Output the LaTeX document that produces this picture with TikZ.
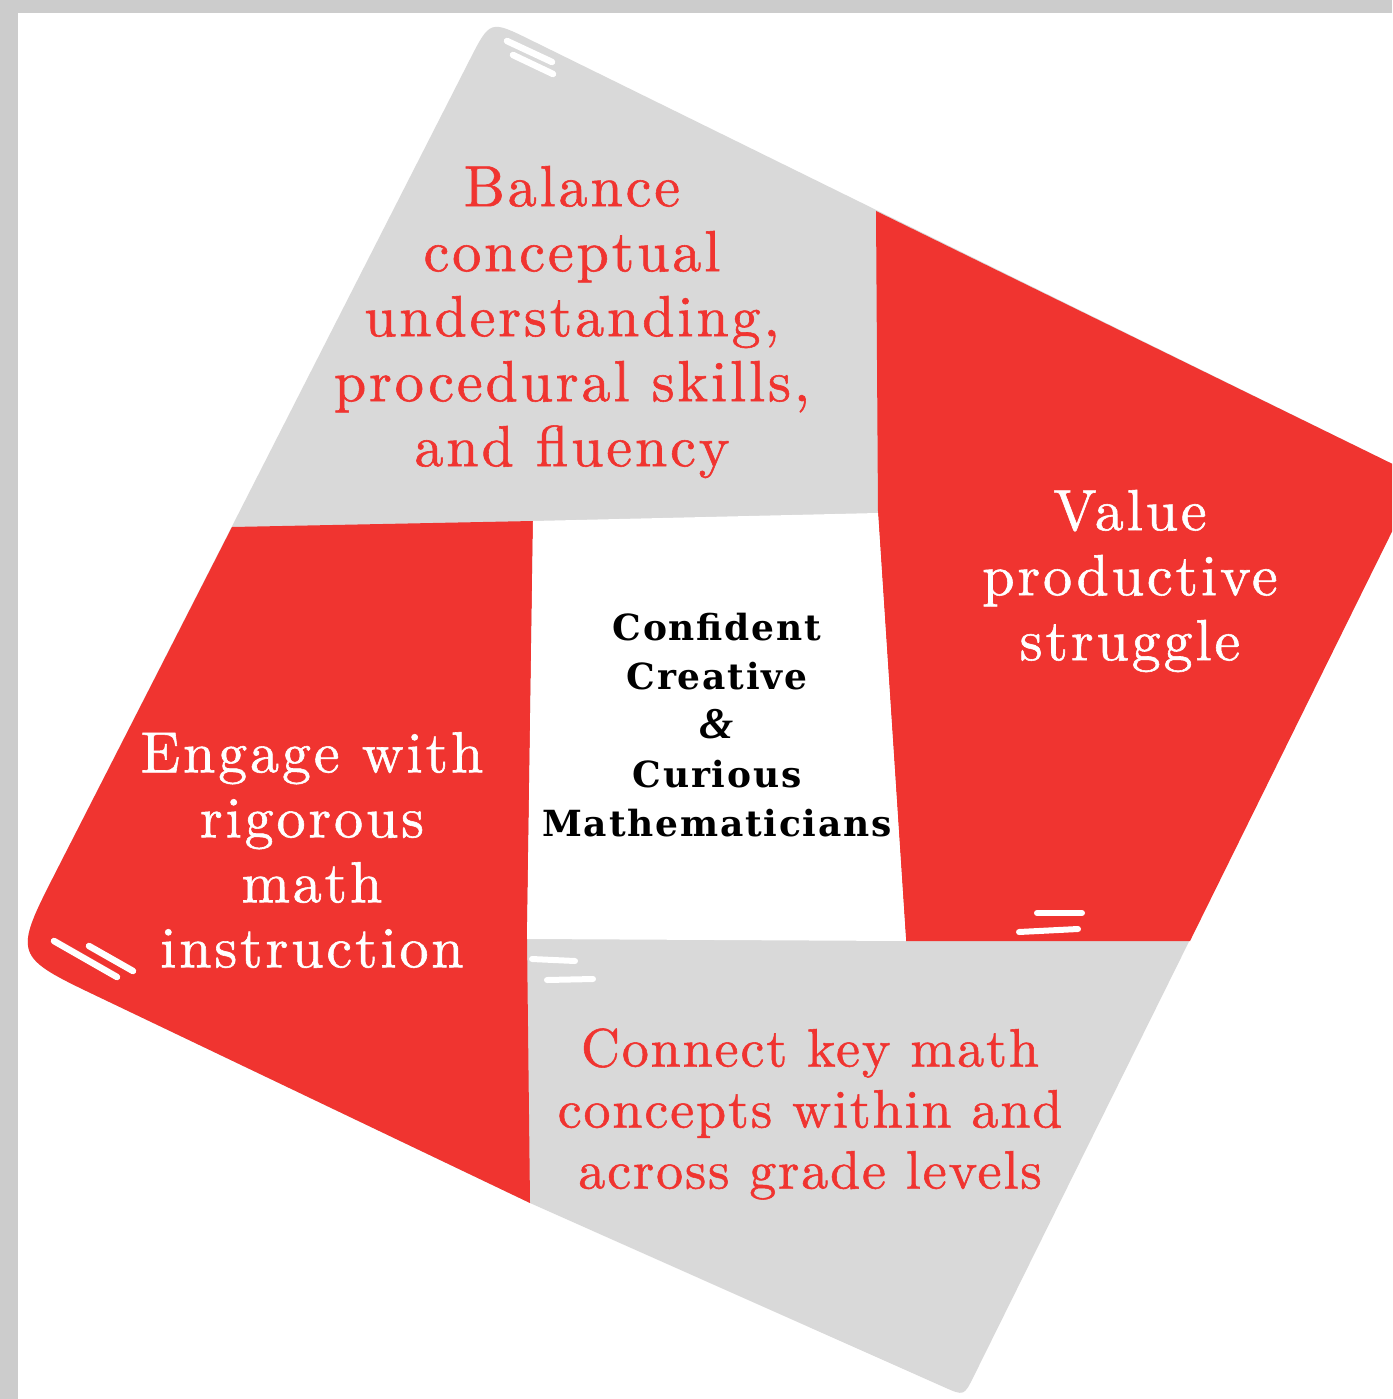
\documentclass[tikz,border=0pt]{standalone}
\usepackage{fontspec}
\usetikzlibrary{calc}

\newfontfamily\petalfont{lmroman10-regular}[Extension=.otf,LetterSpace=5,FakeBold=1]
\newfontfamily\lowpetalfont{lmroman10-regular}[Extension=.otf,LetterSpace=3.5,FakeBold=1]
\newfontfamily\slabfont{DejaVu Serif}[LetterSpace=5]
\newfontfamily\ampfont{Liberation Serif}

\definecolor{petal red}{RGB}{240,52,48}
\definecolor{petal grey}{RGB}{217,217,217}
\definecolor{frame grey}{RGB}{204,204,204}

\begin{document}
\begin{tikzpicture}[x=1pt,y=-1pt,
  quad text/.style={align=center,font=\petalfont\fontsize{58}{65}\selectfont},
  on grey/.style={quad text,text=petal red},
  on red/.style={quad text,text=white},
  core text/.style={align=center,font=\slabfont\bfseries\fontsize{36}{49}\selectfont},
  scratch/.style={draw=white,line width=6.5pt,line cap=round}]

  % page and frame
  \fill[frame grey] (0,0) rectangle (1392,1399);
  \fill[white] (18,13) rectangle (1392,1399);
  \clip (0,0) rectangle (1392,1399);

  % outer corners of the tilted square
  \coordinate (T) at (490,20);
  \coordinate (R) at (1419,477);
  \coordinate (B) at (964,1396);
  \coordinate (L) at (13,956);
  % where the dividers meet the rim
  \coordinate (tl) at (232,527);
  \coordinate (tr) at (876,211);
  \coordinate (rb) at (1190,941);
  \coordinate (bl) at (530,1203);
  % the white square in the middle
  \coordinate (c1) at (533,521);
  \coordinate (c2) at (878,513);
  \coordinate (c3) at (906,941);
  \coordinate (c4) at (527,939);

  % whole square in grey first
  \fill[petal grey]
    ($(T)!45pt!(L)$) .. controls (T) .. ($(T)!45pt!(R)$)
    -- ($(R)!30pt!(T)$) .. controls (R) .. ($(R)!30pt!(B)$)
    -- ($(B)!22pt!(R)$) .. controls (B) .. ($(B)!22pt!(bl)$)
    -- (bl) -- ($(L)!95pt!(bl)$) .. controls (L) .. ($(L)!95pt!(T)$) -- cycle;

  % red blades
  \fill[petal red] (tr) -- ($(R)!30pt!(T)$) .. controls (R) .. ($(R)!30pt!(B)$)
    -- (rb) -- (c3) -- (c2) -- cycle;
  \fill[petal red] (tl) -- (c1) -- (c4) -- (bl)
    -- ($(L)!95pt!(bl)$) .. controls (L) .. ($(L)!95pt!(T)$) -- cycle;

  % centre
  \fill[white] (c1) -- (c2) -- (c3) -- (c4) -- cycle;

  % little white strokes
  \draw[scratch] (507,41) -- (552,62);
  \draw[scratch] (513,55) -- (553,74);
  \draw[scratch] (54,941) -- (117,977);
  \draw[scratch] (89,946) -- (133,971);
  \draw[scratch,line width=6pt] (1037,913) -- (1082,913);
  \draw[scratch,line width=6pt] (1019,932) -- (1078,929);
  \draw[scratch,line width=6pt] (532,959) -- (575,961);
  \draw[scratch,line width=6pt] (547,980) -- (593,979);

  \node[on grey] (balance) at (572,322) {Balance\\conceptual\\understanding,\\procedural skills,\\and fluency};
  \node[on red] (value) at (1130,581) {Value\\productive\\struggle};
  \node[on red] (engage) at (312,850) {Engage with\\rigorous\\math\\instruction};
  \node[on grey,font=\lowpetalfont\fontsize{54}{61}\selectfont] (connect) at (810,1114)
    {Connect key math\\concepts within and\\across grade levels};
  \node[core text] (core) at (717,725)
    {Confident\\Creative\\{\ampfont\itshape\bfseries\fontsize{44}{49}\selectfont\&}\\Curious\\Mathematicians};
\end{tikzpicture}
\end{document}
